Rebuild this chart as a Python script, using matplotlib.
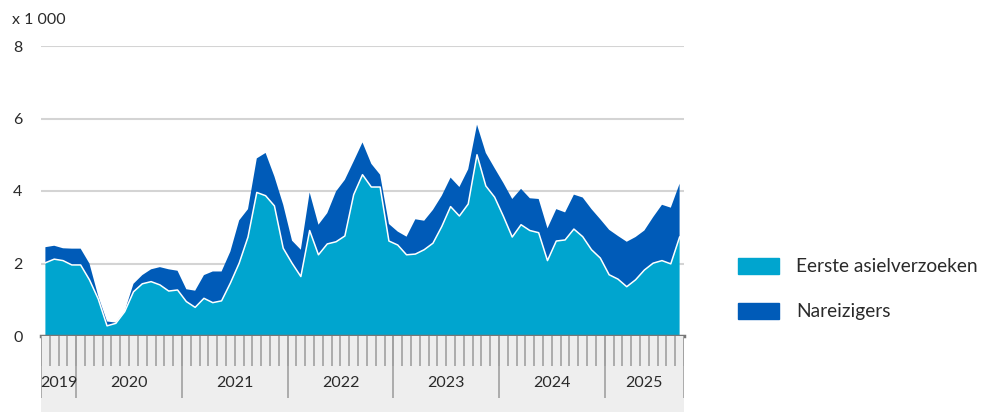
import numpy as np
import matplotlib.pyplot as plt

# monthly values, Sep 2019 - Sep 2025 (x 1 000)
eerste = [2.02, 2.12, 2.08, 1.96, 1.96, 1.55, 1.02, 0.28, 0.35, 0.67,
          1.22, 1.44, 1.50, 1.41, 1.24, 1.27, 0.95, 0.79, 1.04, 0.92,
          0.97, 1.46, 2.01, 2.73, 3.96, 3.87, 3.59, 2.42, 2.01, 1.64,
          2.91, 2.24, 2.54, 2.60, 2.76, 3.90, 4.45, 4.11, 4.11, 2.62,
          2.51, 2.24, 2.26, 2.38, 2.56, 3.02, 3.57, 3.31, 3.64, 5.00,
          4.14, 3.83, 3.30, 2.73, 3.07, 2.91, 2.85, 2.08, 2.62, 2.65,
          2.95, 2.74, 2.38, 2.15, 1.69, 1.57, 1.36, 1.55, 1.82, 2.01,
          2.08, 1.99, 2.73]
totaal = [2.45, 2.49, 2.42, 2.41, 2.41, 2.00, 1.10, 0.40, 0.37, 0.68,
          1.44, 1.68, 1.84, 1.90, 1.84, 1.80, 1.29, 1.25, 1.68, 1.78,
          1.78, 2.33, 3.19, 3.50, 4.90, 5.05, 4.40, 3.62, 2.63, 2.38,
          3.96, 3.07, 3.39, 3.99, 4.31, 4.82, 5.34, 4.75, 4.45, 3.09,
          2.88, 2.74, 3.22, 3.18, 3.48, 3.87, 4.37, 4.11, 4.60, 5.83,
          5.05, 4.63, 4.22, 3.78, 4.06, 3.80, 3.78, 2.97, 3.50, 3.41,
          3.90, 3.82, 3.50, 3.22, 2.93, 2.76, 2.60, 2.73, 2.91, 3.28,
          3.62, 3.54, 4.20]
nareizigers = [t - e for t, e in zip(totaal, eerste)]

years = ['2019', '2020', '2021', '2022', '2023', '2024', '2025']
months_per_year = [4, 12, 12, 12, 12, 12, 9]
series_labels = ['Eerste asielverzoeken', 'Nareizigers']

light = '#00a5cf'
dark = '#005bb8'
txt = '#2a2a2a'

plt.rcParams['font.family'] = ['Lato', 'DejaVu Sans']

W, H = 984, 412
fig = plt.figure(figsize=(W / 100, H / 100), dpi=100)

n = len(eerste)
x = np.arange(n) + 0.5

# main plot area
ax = fig.add_axes([41 / W, (H - 336) / H, (684 - 41) / W, (336 - 46) / H])
ax.stackplot(x, eerste, nareizigers, colors=[light, dark], linewidth=0)
ax.plot(x, eerste, color='white', lw=1.1)
ax.set_xlim(0, n)
ax.set_ylim(0, 8)
for v in [2, 4, 6, 8]:
    ax.axhline(v, color='#d4d4d4', lw=1.5, zorder=0)
ax.axhline(0, color='#777777', lw=2.5, zorder=5, clip_on=False)
for s in ax.spines.values():
    s.set_visible(False)
ax.set_xticks([])
ax.set_yticks([0, 2, 4, 6, 8])
ax.set_yticklabels(['0', '2', '4', '6', '8'], fontsize=11.5, color=txt)
ax.tick_params(axis='y', length=0, pad=20)
for lab in ax.get_yticklabels():
    lab.set_horizontalalignment('left')
fig.text(12 / W, 1 - 20 / H, 'x 1 000', fontsize=11.5, color=txt, va='center')

# time axis band
bx = fig.add_axes([41 / W, 0, (684 - 41) / W, 76 / H])
bx.set_xlim(0, n)
bx.set_ylim(76, 0)
bx.axis('off')
bx.axvspan(0, n, color='#eeeeee', zorder=0)
bounds = np.cumsum([0] + months_per_year)
bx.vlines(np.arange(n + 1), 0, 30, color='#a0a0a0', lw=1.2)
bx.vlines(bounds, 0, 62, color='#a0a0a0', lw=1.2)
for i, yr in enumerate(years):
    bx.text((bounds[i] + bounds[i + 1]) / 2, 47, yr, ha='center', va='center',
            fontsize=11.5, color=txt)

# legend
lx = 738 / W
for j, (lab, c) in enumerate(zip(series_labels, [light, dark])):
    yc = 1 - (266 + 45 * j) / H
    fig.patches.append(plt.Rectangle((lx, yc - 8 / H), 41 / W, 16 / H, color=c,
                                     transform=fig.transFigure))
    fig.text(796 / W, yc, lab, fontsize=13.8, color=txt, va='center')

fig.savefig('out.png', dpi=100)
